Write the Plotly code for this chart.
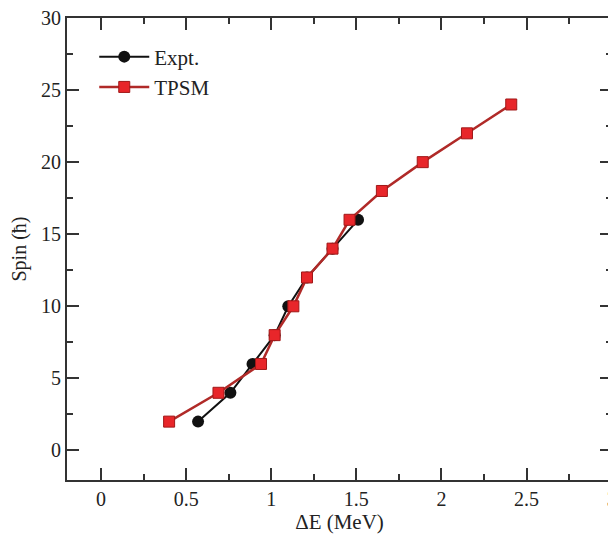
import plotly.graph_objects as go

expt_x = [0.57, 0.76, 0.89, 1.02, 1.10, 1.21, 1.36, 1.51]
expt_spin = [2, 4, 6, 8, 10, 12, 14, 16]
tpsm_x = [0.40, 0.69, 0.94, 1.02, 1.13, 1.21, 1.36, 1.46, 1.65, 1.89, 2.15, 2.41]
tpsm_spin = [2, 4, 6, 8, 10, 12, 14, 16, 18, 20, 22, 24]

fig = go.Figure()
fig.add_trace(go.Scatter(
    x=expt_x, y=expt_spin, mode="lines+markers", name="Expt.",
    line=dict(color="#111111", width=2),
    marker=dict(symbol="circle", size=12, color="#111111"),
))
fig.add_trace(go.Scatter(
    x=tpsm_x, y=tpsm_spin, mode="lines+markers", name="TPSM",
    line=dict(color="#b02a28", width=2.5),
    marker=dict(symbol="square", size=11, color="#e8262a", line=dict(color="#a01818", width=1)),
))

font = "Liberation Serif, Times New Roman, serif"
axis_common = dict(
    showline=True, linecolor="#333333", linewidth=2, mirror="ticks",
    ticks="inside", ticklen=12, tickwidth=2, tickcolor="#333333",
    showgrid=False, zeroline=False, automargin=False,
    ticklabeloverflow="allow",
    tickfont=dict(family=font, size=20, color="#222222"),
)
fig.update_xaxes(
    range=[-0.2, 3.002], tick0=0, dtick=0.5,
    minor=dict(dtick=0.25, ticks="inside", ticklen=6, tickwidth=2, tickcolor="#333333"),
    title=dict(text="ΔE (MeV)", font=dict(family=font, size=21, color="#222222"), standoff=0),
    **axis_common,
)
fig.update_yaxes(
    range=[-2.05, 30], tick0=0, dtick=5,
    minor=dict(dtick=2.5, ticks="inside", ticklen=6, tickwidth=2, tickcolor="#333333"),
    title=dict(text="Spin (ħ)", font=dict(family=font, size=20, color="#222222"), standoff=12),
    **axis_common,
)
fig.update_layout(
    width=608, height=528,
    margin=dict(l=59, r=4, t=10, b=56),
    plot_bgcolor="white", paper_bgcolor="white",
    showlegend=True,
    legend=dict(x=0.05, y=0.96, xanchor="left", yanchor="top",
                bgcolor="rgba(0,0,0,0)", font=dict(family=font, size=21, color="#222222"),
                itemwidth=50),
)
fig.write_html("out.html")
